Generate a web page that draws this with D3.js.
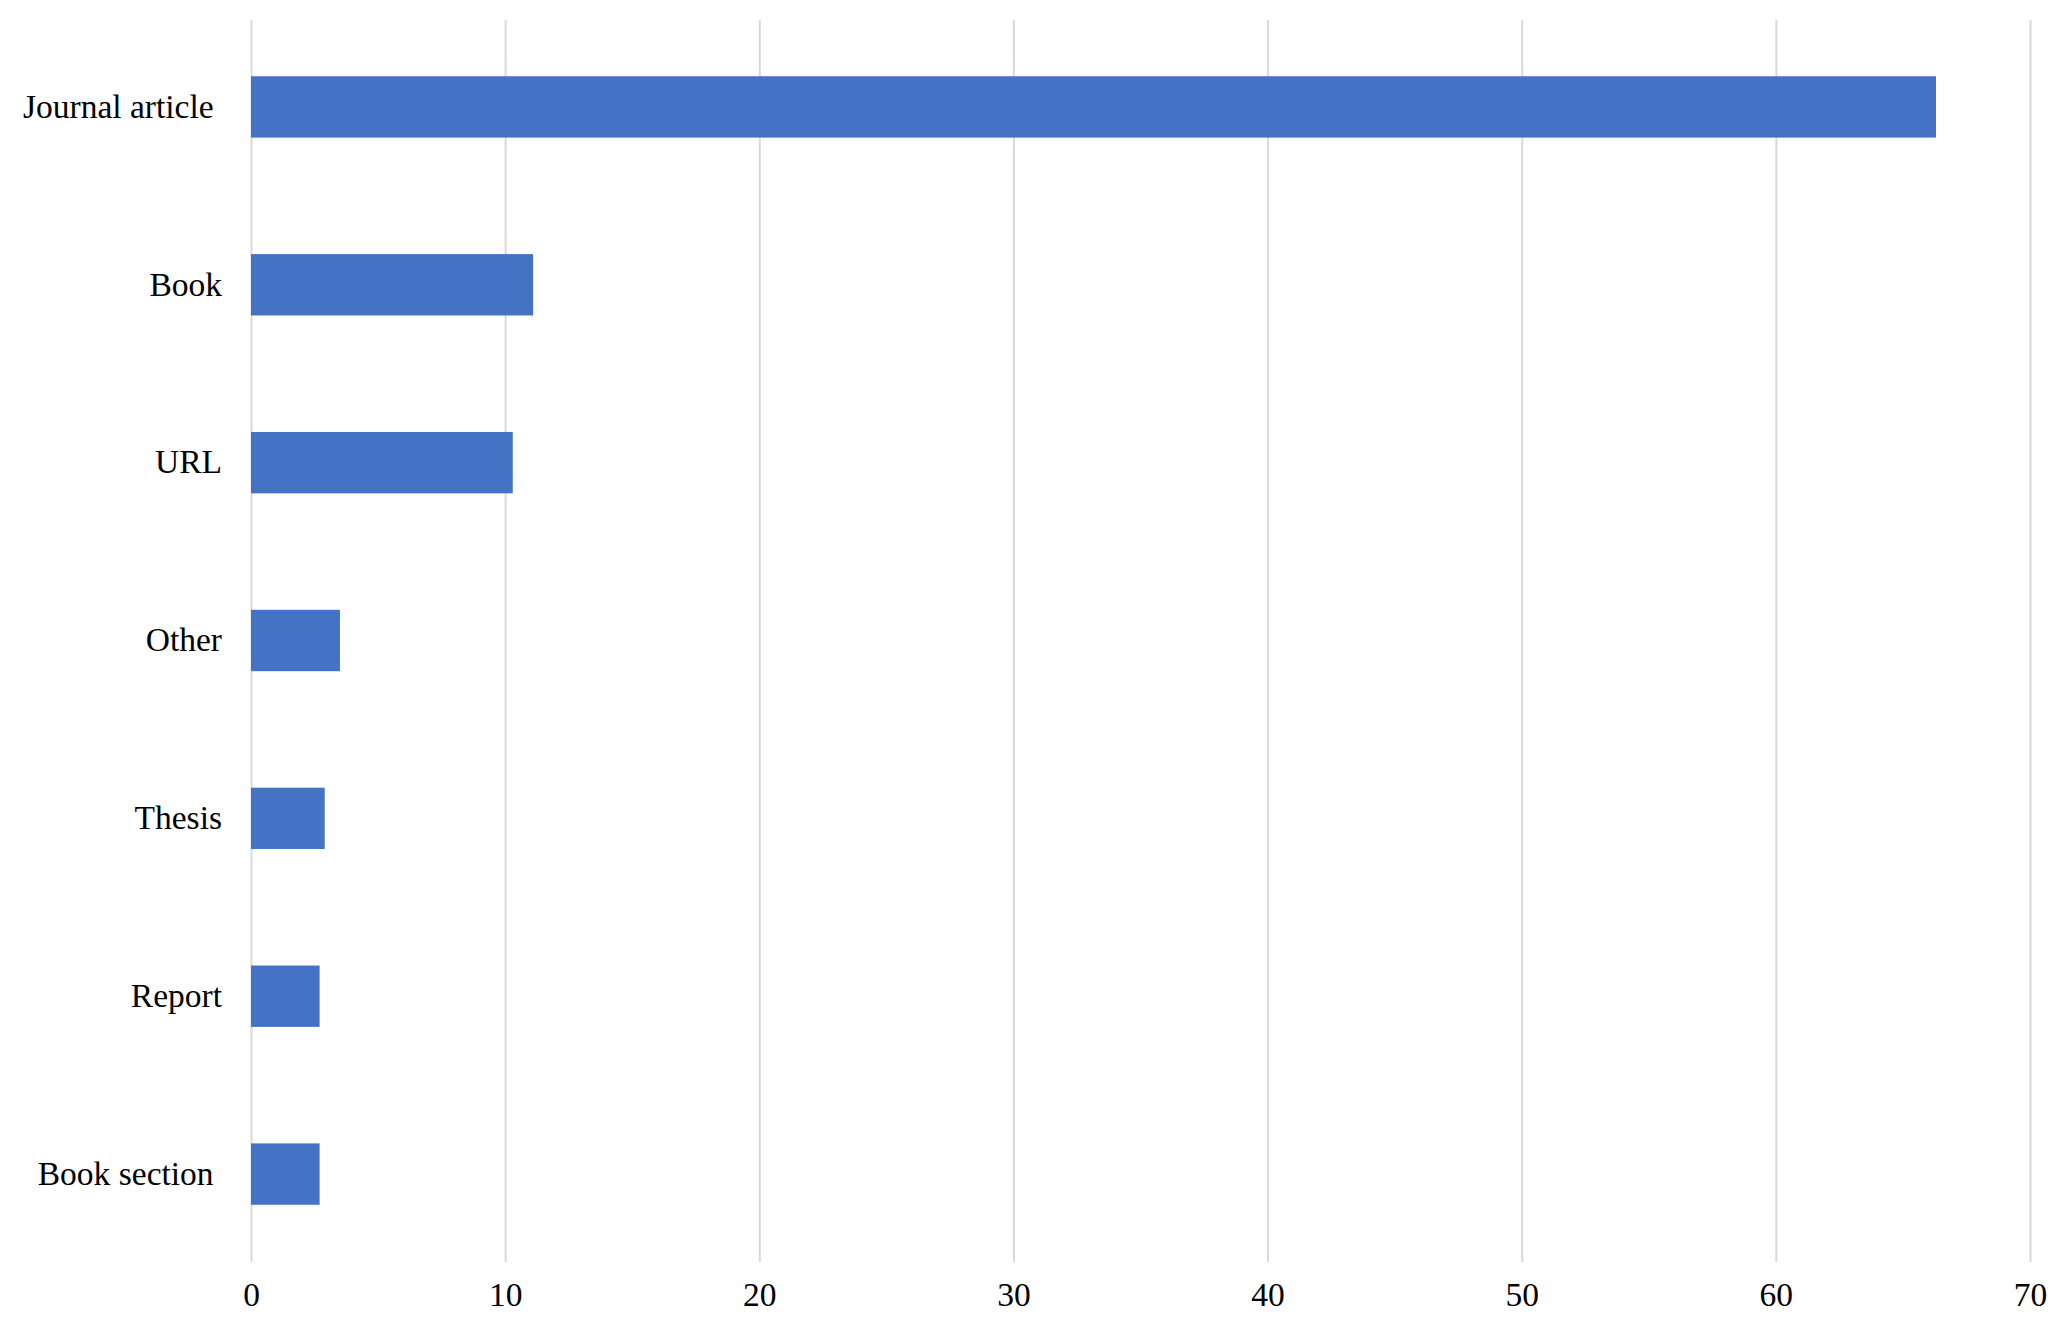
<!DOCTYPE html>
<html>
<head>
<meta charset="utf-8">
<script src="https://cdn.jsdelivr.net/npm/d3@7"></script>
<style>
  html, body { margin: 0; padding: 0; background: #fff; }
  svg { display: block; }
  text { font-family: "Liberation Serif", "Times New Roman", serif; fill: #000; }
</style>
</head>
<body>
<div id="chart"></div>
<script>
// categories as they appear top to bottom (trailing spaces are in the source labels)
const categories = ['Journal article ', 'Book', 'URL', 'Other', 'Thesis', 'Report', 'Book section '];
const values = [66.3, 11.1, 10.3, 3.5, 2.9, 2.7, 2.7];
const xTicks = [0, 10, 20, 30, 40, 50, 60, 70];

const width = 2067, height = 1326;
const margin = { top: 20, right: 37, bottom: 64, left: 251 };
const fontSize = 33.5;

const svg = d3.select('#chart').append('svg')
    .attr('width', width)
    .attr('height', height);

const x = d3.scaleLinear()
    .domain([0, 70])
    .range([margin.left, width - margin.right]);

// bands run a touch past the gridline extent, like the original
const y = d3.scaleBand()
    .domain(categories)
    .range([margin.top - 2, height - margin.bottom + 1])
    .paddingInner(0.655)
    .paddingOuter(0.3275);

// vertical gridlines + bottom tick labels
const xAxis = svg.append('g')
    .attr('transform', `translate(0,${height - margin.bottom})`)
    .call(d3.axisBottom(x)
        .tickValues(xTicks)
        .tickSizeInner(-(height - margin.bottom - margin.top))
        .tickSizeOuter(0)
        .tickFormat(d3.format('d')));

xAxis.select('.domain').remove();
xAxis.selectAll('.tick line')
    .attr('stroke', '#d9d9d9')
    .attr('stroke-width', 2);
xAxis.selectAll('.tick text')
    .attr('y', 44)
    .attr('dy', 0)
    .attr('font-size', fontSize)
    .attr('font-family', '"Liberation Serif", "Times New Roman", serif');

// bars
svg.append('g')
    .selectAll('rect')
    .data(values)
    .join('rect')
    .attr('x', x(0))
    .attr('y', (d, i) => y(categories[i]))
    .attr('width', d => x(d) - x(0))
    .attr('height', y.bandwidth())
    .attr('fill', '#4472c4');

// category labels
const yAxis = svg.append('g')
    .attr('transform', `translate(${margin.left},0)`)
    .call(d3.axisLeft(y).tickSize(0).tickPadding(29));

yAxis.select('.domain').remove();
yAxis.selectAll('.tick text')
    .style('white-space', 'pre')
    .attr('dy', '0.32em')
    .attr('font-size', fontSize)
    .attr('font-family', '"Liberation Serif", "Times New Roman", serif');
</script>
</body>
</html>
